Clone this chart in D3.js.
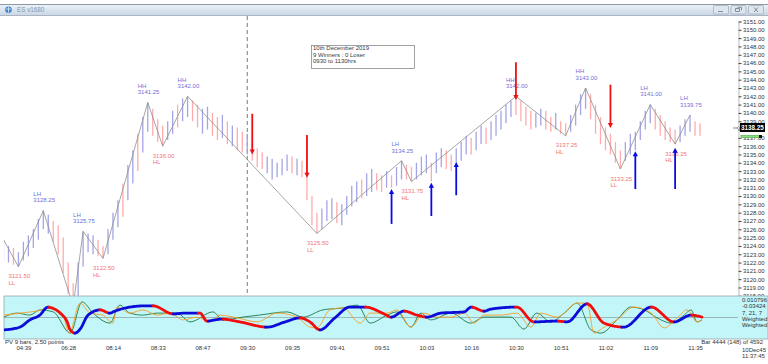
<!DOCTYPE html>
<html>
<head>
<meta charset="utf-8">
<script src="https://cdn.jsdelivr.net/npm/d3@7"></script>
<style>
  body { margin: 0; background: #fff; }
  svg { display: block; font-family: "Liberation Sans", Arial, sans-serif; }
</style>
</head>
<body>
<div id="chart"></div>
<script>
// ---- data ----
// bar highs / lows, one per bar (141 bars), and direction u = up (blue), d = down (pink)
var barHigh = [
  3124.75,3124.0,3123.75,3123.25,3124.5,3125.25,3126.0,3127.25,3128.25,3127.75,
  3127.0,3126.5,3125.0,3122.0,3119.5,3122.0,3125.75,3125.5,3125.25,3124.75,
  3124.0,3126.0,3128.0,3129.5,3131.5,3133.75,3135.5,3137.5,3139.5,3141.25,
  3140.5,3139.25,3138.5,3139.0,3140.25,3141.0,3141.75,3142.0,3141.5,3141.0,
  3140.5,3140.75,3140.0,3139.5,3139.75,3139.0,3138.5,3138.25,3137.75,3137.5,
  3136.5,3135.75,3135.25,3134.75,3134.5,3134.0,3134.5,3135.0,3134.75,3134.5,
  3134.25,3133.0,3130.0,3128.0,3128.5,3129.5,3129.75,3129.25,3129.0,3130.0,
  3131.25,3131.75,3132.0,3132.75,3133.25,3132.75,3132.5,3133.0,3132.5,3133.5,
  3134.25,3133.75,3133.5,3134.0,3134.75,3135.0,3134.0,3135.25,3135.75,3135.5,
  3135.0,3135.75,3136.5,3137.25,3137.0,3137.75,3138.5,3138.25,3139.0,3139.75,
  3140.25,3141.0,3141.5,3142.0,3141.5,3140.75,3140.25,3140.0,3140.5,3140.25,
  3139.5,3140.0,3139.0,3138.75,3139.75,3141.0,3142.25,3143.0,3142.25,3141.0,
  3139.5,3138.25,3137.5,3136.5,3135.5,3136.5,3137.5,3137.75,3139.0,3140.25,
  3141.0,3140.5,3139.75,3139.0,3138.25,3138.0,3138.5,3139.25,3139.75,3139.0,
  3138.75
];
var barLow = [
  3122.25,3122.0,3121.75,3121.5,3122.25,3122.75,3123.75,3124.75,3126.0,3125.5,
  3124.5,3123.0,3120.75,3118.25,3116.75,3117.75,3121.5,3123.25,3123.0,3122.75,
  3122.5,3123.0,3124.75,3126.25,3127.5,3129.5,3131.5,3133.0,3135.25,3137.75,
  3137.25,3136.5,3136.0,3136.75,3137.5,3138.25,3139.0,3139.5,3139.0,3138.25,
  3137.5,3138.0,3137.25,3136.75,3137.0,3136.25,3136.0,3135.5,3135.25,3135.0,
  3134.25,3133.5,3133.25,3132.75,3132.0,3132.25,3132.5,3133.0,3132.75,3132.5,
  3132.25,3129.5,3126.5,3125.5,3126.0,3127.0,3127.25,3126.75,3126.5,3127.75,
  3128.75,3129.25,3129.75,3130.0,3130.5,3130.75,3130.5,3131.0,3131.0,3131.25,
  3132.0,3132.0,3131.75,3132.0,3132.5,3132.75,3131.75,3132.75,3133.5,3133.25,
  3133.0,3134.0,3134.25,3135.0,3135.0,3135.5,3136.25,3136.25,3136.75,3137.25,
  3138.0,3138.75,3139.5,3139.75,3139.0,3138.5,3138.0,3138.25,3138.5,3138.0,
  3137.75,3138.0,3137.5,3137.25,3137.75,3138.5,3139.75,3140.5,3139.25,3137.5,
  3136.25,3135.5,3135.0,3134.0,3133.25,3134.25,3135.0,3135.5,3136.75,3138.0,
  3138.75,3138.0,3137.25,3136.75,3136.5,3136.25,3136.5,3137.25,3137.75,3137.25,
  3137.25
];
var barDir =
  "uuduuuuuuu" + "ddddduuuud" + "duuuduuduu" + "ddduuduudd" + "uuddududdu" +
  "ddduuuuudu" + "dddduuuduu" + "uuduuddudu" + "udduuuduud" + "duuuduuduu" +
  "uuudddduud" + "dudduuuudd" + "ddddduuuuu" + "uddddduuud" + "d";

// zigzag swing points
var swingIdx   = [0, 3, 8, 14, 16, 20, 29, 32, 37, 63, 80, 82, 103, 113, 117, 124, 130, 135, 138];
var swingPrice = [3124.75, 3121.5, 3128.25, 3116.75, 3125.75, 3122.5, 3141.25, 3136.0, 3142.0,
                  3125.5, 3134.25, 3131.75, 3142.0, 3137.25, 3143.0, 3133.25, 3141.0, 3136.25, 3139.75];
var swingTag   = ["", "LL", "LH", "", "LH", "HL", "HH", "HL", "HH",
                  "LL", "LH", "HL", "HH", "HL", "HH", "LL", "LH", "HL", "LH"];

// signal arrows (bar, tail price, tip price)
var sellIdx  = [50, 61, 103, 122];
var sellTail = [3139.9, 3137.35, 3146.1, 3143.4];
var sellTip  = [3135.0, 3132.2, 3141.55, 3138.2];
var buyIdx   = [78, 86, 91, 127, 135];
var buyTail  = [3126.65, 3127.6, 3130.1, 3130.85, 3130.85];
var buyTip   = [3130.85, 3131.6, 3134.1, 3135.4, 3135.8];

var sessionStartIdx = 49;
var lastPrice = 3138.25;

// time axis
var timeIdx    = [4, 13, 22, 31, 40, 49, 58, 67, 76, 85, 94, 103, 112, 121, 130, 139];
var timeLabels = ["04:39","06:28","08:14","08:33","08:47","09:30","09:35","09:41",
                  "09:51","10:03","10:16","10:30","10:51","11:02","11:09","11:35"];

// oscillator lines: [bar position, value]
var oscMain = [[0.1,-0.62],[3.3,-0.48],[5.3,-0.12],[7.3,0.12],[8.9,0.52],[9.7,0.48],[11.4,0.22],
  [12.8,-0.22],[13.4,-0.62],[14.4,-0.78],[15.4,-0.58],[17,0.12],[19.4,0.38],[21.4,0.22],[22.4,0.32],
  [25.4,0.52],[28.4,0.58],[30.1,0.58],[34.1,0.18],[36.5,0.22],[39.5,0.22],[40.9,-0.18],[42.5,-0.12],
  [43.9,-0.08],[47.5,-0.22],[53,-0.48],[56.6,-0.22],[59.6,-0.02],[61.6,-0.22],[63.6,-0.62],[66.6,-0.02],
  [69.6,0.52],[72.7,0.52],[76.5,0.18],[77.9,0.02],[80.5,0.32],[83.1,0.12],[85.1,0.02],[87.9,0.22],
  [92.6,0.28],[94,0.52],[96.6,0.32],[98,0.42],[103.2,0.52],[106.6,-0.22],[111.3,-0.18],[113.3,-0.22],
  [117.3,0.68],[120.7,-0.28],[124.7,-0.48],[130.2,0.52],[134.8,-0.22],[138.2,0.12],[140.4,0.02]];
var oscFast = [[0.1,0.12],[3.3,0.22],[6.7,0.32],[9.4,0.48],[11.8,0.22],[13.2,-0.78],[15.4,0.72],
  [17.4,0.22],[20,0.12],[22,-0.28],[22.8,0.52],[25.4,0.22],[28,0.38],[30.9,0.12],[33.5,0.22],
  [36.1,-0.12],[38.9,0.02],[41.5,-0.22],[43.5,0.12],[47,-0.02],[51,-0.22],[55,0.22],[59,0.02],
  [61.6,-0.48],[63,-0.52],[65.6,0.38],[68.2,0.48],[71.7,-0.28],[73.7,0.22],[77.1,0.22],[79.1,0.38],
  [81.9,-0.48],[84.5,0.22],[87.1,0.02],[90,0.02],[92.6,0.22],[94.6,-0.28],[96.6,0.12],[100,0.12],
  [103.2,0.22],[106,-0.48],[108,0.22],[111.3,0.02],[115.3,0.72],[117.3,0.72],[118.7,-0.78],
  [120.7,-0.48],[123.3,-0.12],[126.7,0.52],[130.2,0.22],[132.8,-0.52],[135.4,-0.02],[137.4,0.38],
  [139.4,-0.22],[140.4,-0.12]];
var oscSlow = [[0.1,0.02],[2.7,0.22],[5.3,0.12],[7.3,0.38],[10,0.28],[13.4,-0.78],[15.8,0.78],
  [18,0.22],[21.4,-0.28],[23.4,0.62],[25.4,0.22],[28,0.12],[30.9,0.22],[34.9,0.22],[37.5,-0.22],
  [42.1,0.28],[44.1,-0.12],[48.1,0.02],[51.4,0.12],[57,0.28],[60.2,0.02],[64.2,0.38],[68.2,0.48],
  [71.1,0.62],[73.7,-0.28],[77.1,0.12],[79.1,0.28],[81.9,-0.48],[83.9,0.22],[85.9,-0.12],[90,0.22],
  [93.9,-0.28],[96.6,0.02],[102,0.02],[104.6,-0.58],[107.2,0.22],[110,-0.22],[112.7,0.22],
  [115.3,0.72],[118.1,-0.62],[120.1,-0.78],[123.3,-0.12],[126.1,0.52],[128.8,0.38],[131.4,-0.02],
  [134.2,-0.28],[136.8,0.12],[138.2,0.38],[139.4,-0.22],[140.4,-0.12]];
var oscReadout = ["0.010796", "-0.03424", "7, 21, 7", "Weighted", "Weighted"];

// ---- drawing ----
var W = 768, H = 364;
var svg = d3.select("#chart").append("svg").attr("width", W).attr("height", H);
var defs = svg.append("defs");

var x  = d3.scaleLinear().domain([0, 140]).range([3.5, 700]);
var y  = d3.scaleLinear().domain([3118, 3151]).range([295.81, 21.5]);
var yo = d3.scaleLinear().domain([-1, 1]).range([337.5, 297.5]);

// title bar
var tb = defs.append("linearGradient").attr("id", "tb").attr("x1", 0).attr("y1", 0).attr("x2", 0).attr("y2", 1);
tb.append("stop").attr("offset", 0).attr("stop-color", "#eef3f8");
tb.append("stop").attr("offset", 1).attr("stop-color", "#c8d6e5");
svg.append("rect").attr("x", 0).attr("y", 4).attr("width", W).attr("height", 11.5).attr("fill", "url(#tb)");
svg.append("line").attr("x1", 0).attr("x2", W).attr("y1", 4.5).attr("y2", 4.5).attr("stroke", "#8d98a5");
svg.append("line").attr("x1", 0).attr("x2", W).attr("y1", 15.5).attr("y2", 15.5).attr("stroke", "#a9b5c2");
svg.append("circle").attr("cx", 8.5).attr("cy", 9.8).attr("r", 3.3).attr("fill", "#3f86c8");
svg.append("path").attr("d", "M6,9 L11,9 M8.5,7 L8.5,12.5").attr("stroke", "#dceeff").attr("stroke-width", 0.8);
svg.append("text").attr("x", 17).attr("y", 12.3).attr("font-size", 6.3).attr("fill", "#8696aa").text("ES v1680");

var btnX = [713, 730.5, 748];
btnX.forEach(function(bx, i) {
  svg.append("rect").attr("x", bx + 0.5).attr("y", 5.5).attr("width", 15).attr("height", 8.5)
    .attr("rx", 1).attr("fill", "#dde5ee").attr("stroke", "#9ba7b5").attr("stroke-width", 0.7);
  var g = svg.append("g").attr("stroke", "#6d7784").attr("stroke-width", 0.8).attr("fill", "none");
  if (i == 0) g.append("path").attr("d", "M" + (bx + 5) + ",11.5 h5");
  if (i == 1) g.append("path").attr("d", "M" + (bx + 5) + ",8.5 h4 v3 h-4 z M" + (bx + 7) + ",7.3 h4 v3");
  if (i == 2) g.append("path").attr("d", "M" + (bx + 6) + ",7.5 l4,4.5 M" + (bx + 10) + ",7.5 l-4,4.5");
});

// right price axis (drawn before the oscillator so the panel hides the lowest label)
var yAxis = svg.append("g")
  .attr("transform", "translate(738.5,0)")
  .call(d3.axisRight(y).ticks(33).tickSize(3).tickPadding(1.5).tickFormat(d3.format(".2f")));
yAxis.select(".domain").attr("stroke", "#b9b9b9");
yAxis.selectAll(".tick line").attr("stroke", "#444");
yAxis.selectAll(".tick text").attr("font-size", 6).attr("fill", "#333").attr("font-family", "Liberation Sans, Arial");
// the last-price box sits on top of this label
yAxis.selectAll(".tick").filter(function(d) { return d == Math.round(lastPrice); }).select("text").remove();

// plot area clip
defs.append("clipPath").attr("id", "plot").append("rect")
  .attr("x", 4).attr("y", 16).attr("width", 734).attr("height", 280);
var plot = svg.append("g").attr("clip-path", "url(#plot)");

// session start marker
plot.append("line")
  .attr("x1", x(sessionStartIdx)).attr("x2", x(sessionStartIdx))
  .attr("y1", 16).attr("y2", 296)
  .attr("stroke", "#7a7a7a").attr("stroke-dasharray", "4,3");

// bars
plot.selectAll(".bar")
  .data(barHigh)
  .enter().append("line")
    .attr("class", "bar")
    .attr("x1", function(d, i) { return x(i); })
    .attr("x2", function(d, i) { return x(i); })
    .attr("y1", function(d) { return y(d); })
    .attr("y2", function(d, i) { return y(barLow[i]); })
    .attr("stroke", function(d, i) { return barDir[i] == "u" ? "#a3a5e6" : "#ffabab"; })
    .attr("stroke-width", 1.3);

// zigzag
var swings = swingIdx.map(function(d, i) { return { i: d, p: swingPrice[i], tag: swingTag[i] }; });
plot.append("path")
  .datum(swings)
  .attr("fill", "none")
  .attr("stroke", "#8f8f8f")
  .attr("stroke-width", 0.8)
  .attr("d", d3.line().x(function(d) { return x(d.i); }).y(function(d) { return y(d.p); }));

// swing labels
swings.forEach(function(s) {
  if (!s.tag) return;
  var high = s.tag == "HH" || s.tag == "LH";
  var col = high ? "#7070d8" : "#f27676";
  var t = plot.append("text").attr("font-size", 6).attr("fill", col);
  var lx = x(s.i) - 10, py = y(s.p);
  if (high) {
    t.append("tspan").attr("x", lx).attr("y", py - 14.8).text(s.tag);
    t.append("tspan").attr("x", lx).attr("y", py - 8.2).text(s.p.toFixed(2));
  } else {
    t.append("tspan").attr("x", lx).attr("y", py + 11.5).text(s.p.toFixed(2));
    t.append("tspan").attr("x", lx).attr("y", py + 18.2).text(s.tag);
  }
});

// arrows
function arrow(i, tail, tip, col) {
  var ax = x(i), y0 = y(tail), y1 = y(tip);
  var dir = y1 > y0 ? 1 : -1;
  plot.append("line").attr("x1", ax).attr("x2", ax).attr("y1", y0).attr("y2", y1 - dir * 3)
    .attr("stroke", col).attr("stroke-width", 1.8);
  plot.append("path")
    .attr("d", "M" + (ax - 2.6) + "," + (y1 - dir * 5) + " L" + (ax + 2.6) + "," + (y1 - dir * 5) + " L" + ax + "," + y1 + " Z")
    .attr("fill", col);
}
sellIdx.forEach(function(d, k) { arrow(d, sellTail[k], sellTip[k], "#f01010"); });
buyIdx.forEach(function(d, k) { arrow(d, buyTail[k], buyTip[k], "#0a0ae6"); });

// note box
svg.append("rect").attr("x", 311.5).attr("y", 45.5).attr("width", 103).attr("height", 23)
  .attr("fill", "#fff").attr("stroke", "#8a8a8a").attr("stroke-width", 0.8);
var note = svg.append("text").attr("font-size", 6).attr("fill", "#3a3a3a");
["10th December 2019", "9 Winners : 0 Loser", "0930 to 1130hrs"].forEach(function(s, k) {
  note.append("tspan").attr("x", 313).attr("y", 50.2 + k * 6.5).text(s);
});

// last price marker
svg.append("path").attr("d", "M733,128 h4").attr("stroke", "#555").attr("stroke-width", 0.7);
svg.append("circle").attr("cx", 738.5).attr("cy", 128).attr("r", 1.2).attr("fill", "#fff").attr("stroke", "#555").attr("stroke-width", 0.6);
svg.append("rect").attr("x", 740).attr("y", y(lastPrice) - 4.5).attr("width", 25).attr("height", 9).attr("fill", "#000");
svg.append("text").attr("x", 741).attr("y", y(lastPrice) + 2.2).attr("font-size", 6.3)
  .attr("fill", "#fff").attr("font-weight", "bold").text(lastPrice.toFixed(2));
svg.append("rect").attr("x", 741).attr("y", 135.3).attr("width", 20).attr("height", 2.4)
  .attr("fill", "#86e07e").attr("stroke", "#3c9c3c").attr("stroke-width", 0.5);
svg.append("rect").attr("x", 759).attr("y", 135).attr("width", 3).attr("height", 3).attr("fill", "#111");

// oscillator panel
svg.append("rect").attr("x", 4).attr("y", 296).attr("width", W - 4).attr("height", 43)
  .attr("fill", "#c2f6f9").attr("stroke", "#9aa9aa").attr("stroke-width", 0.8);
svg.append("line").attr("x1", 4).attr("x2", 738).attr("y1", yo(0)).attr("y2", yo(0))
  .attr("stroke", "#8fa9aa").attr("stroke-width", 0.8);

defs.append("clipPath").attr("id", "oscClip").append("rect")
  .attr("x", 4).attr("y", 296.5).attr("width", 734).attr("height", 42);
var osc = svg.append("g").attr("clip-path", "url(#oscClip)");

var oscLine = d3.line()
  .x(function(d) { return x(d[0]); })
  .y(function(d) { return yo(d[1]); })
  .curve(d3.curveMonotoneX);

osc.append("path").attr("d", oscLine(oscSlow)).attr("fill", "none")
  .attr("stroke", "#1d7a43").attr("stroke-width", 0.9);
osc.append("path").attr("d", oscLine(oscFast)).attr("fill", "none")
  .attr("stroke", "#ff9c1e").attr("stroke-width", 0.9);

// thick line: blue while rising, red while falling
var guide = osc.append("path").attr("d", oscLine(oscMain)).attr("fill", "none").attr("stroke", "none");
var node = guide.node(), len = node.getTotalLength();
var pts = d3.range(0, len, 1).map(function(l) { return node.getPointAtLength(l); });
pts.push(node.getPointAtLength(len));
var runs = [], cur = null;
for (var k = 1; k < pts.length; k++) {
  var a = pts[Math.max(0, k - 3)], b = pts[Math.min(pts.length - 1, k + 2)];
  var c = b.y > a.y + 0.2 ? "#f20d0d" : "#0c0cd8";
  if (!cur || cur.c != c) {
    cur = { c: c, p: [pts[k - 1]] };
    runs.push(cur);
  }
  cur.p.push(pts[k]);
}
runs.forEach(function(r) {
  osc.append("path")
    .attr("d", d3.line().x(function(d) { return d.x; }).y(function(d) { return d.y; })(r.p))
    .attr("fill", "none").attr("stroke", r.c).attr("stroke-width", 2.8).attr("stroke-linecap", "round");
});

// oscillator readout
var ro = svg.append("text").attr("font-size", 6).attr("fill", "#333");
oscReadout.forEach(function(s, k) {
  ro.append("tspan").attr("x", 742).attr("y", 302 + k * 6.3).text(s);
});

// footer texts
svg.append("text").attr("x", 5).attr("y", 344).attr("font-size", 6).attr("fill", "#333").text("PV 9 bars, 2.50 points");
svg.append("text").attr("x", 763).attr("y", 344).attr("text-anchor", "end").attr("font-size", 6).attr("fill", "#333")
  .text("Bar 4444 (148) of 4592");

// time axis
var xAxis = svg.append("g")
  .attr("transform", "translate(0,345)")
  .call(d3.axisBottom(x).tickValues(timeIdx).tickSize(0).tickPadding(1)
    .tickFormat(function(d, i) { return timeLabels[i]; }));
xAxis.select(".domain").remove();
xAxis.selectAll(".tick text").attr("font-size", 6).attr("fill", "#333").attr("font-family", "Liberation Sans, Arial");

var stamp = svg.append("text").attr("font-size", 6).attr("fill", "#333");
stamp.append("tspan").attr("x", 742).attr("y", 351.5).text("10Dec45");
stamp.append("tspan").attr("x", 742).attr("y", 357.5).text("11:37:45");
</script>
</body>
</html>
